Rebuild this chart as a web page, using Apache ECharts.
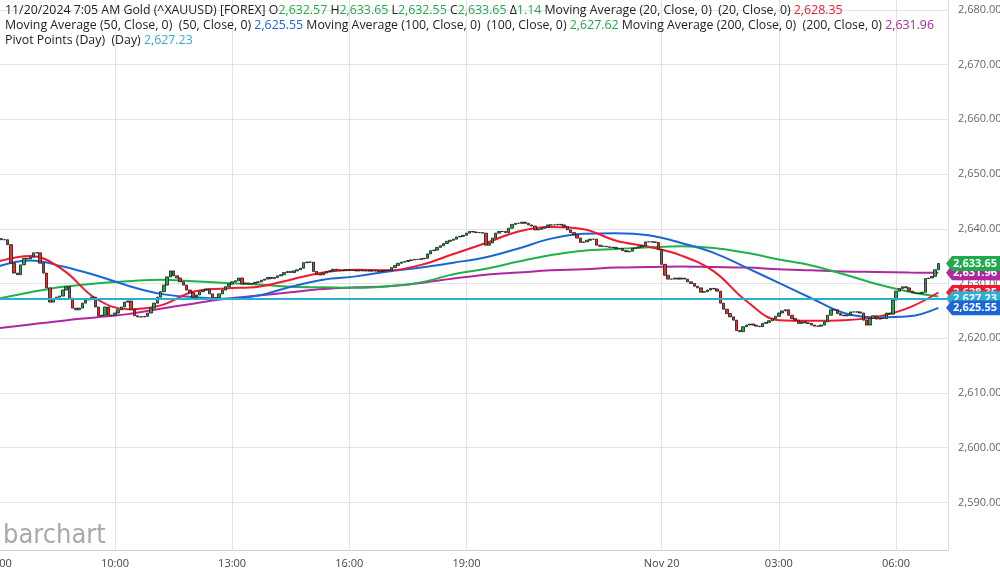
<!DOCTYPE html>
<html><head><meta charset="utf-8">
<script src="https://cdn.jsdelivr.net/npm/echarts@6/dist/echarts.min.js"></script>
<style>html,body{margin:0;padding:0;background:#fff}#c{width:1000px;height:572px}</style>
</head><body><div id="c"></div>
<script>
// ---- data ----
const closes = [
2638.2,2638.0,2638.0,2637.1,2633.7,2631.9,2631.6,2633.4,2634.6,2634.5,
2634.8,2635.6,2635.6,2633.7,2631.9,2629.2,2626.6,2627.2,2627.5,2627.7,
2628.8,2629.4,2627.3,2625.5,2625.2,2625.5,2626.4,2627.0,2627.2,2627.5,
2625.7,2624.1,2624.2,2625.7,2624.2,2624.2,2624.6,2625.2,2625.7,2626.6,
2626.8,2625.2,2624.1,2623.9,2623.9,2624.0,2624.6,2625.5,2626.4,2627.5,
2628.5,2629.7,2631.2,2632.3,2631.4,2631.0,2630.3,2629.7,2628.8,2628.3,
2627.5,2627.9,2628.5,2628.8,2629.0,2628.1,2627.4,2627.4,2628.1,2628.8,
2629.4,2629.9,2630.3,2630.5,2631.0,2629.9,2630.1,2629.9,2630.0,2630.2,
2630.3,2630.6,2630.8,2631.1,2630.9,2631.1,2631.4,2631.6,2632.0,2632.2,
2632.0,2632.3,2632.5,2632.8,2633.8,2633.9,2633.9,2632.2,2631.6,2631.6,
2631.9,2632.2,2632.3,2632.6,2632.5,2632.4,2632.4,2632.5,2632.4,2632.4,
2632.3,2632.4,2632.3,2632.3,2632.3,2632.3,2632.3,2632.2,2632.3,2632.4,
2632.4,2632.9,2633.3,2633.7,2633.9,2634.0,2634.2,2634.3,2634.4,2634.4,
2634.5,2634.6,2635.4,2636.0,2636.1,2636.6,2636.9,2637.3,2637.7,2637.9,
2638.1,2638.5,2638.6,2638.8,2639.2,2639.5,2639.4,2639.3,2639.3,2639.2,
2637.0,2637.4,2638.3,2639.2,2639.5,2639.5,2639.3,2640.1,2640.8,2641.0,
2641.0,2641.2,2641.0,2640.7,2640.5,2639.8,2639.9,2640.1,2640.3,2640.7,
2640.7,2640.7,2640.8,2640.7,2640.4,2639.8,2639.3,2638.9,2638.3,2637.5,
2637.6,2637.9,2638.1,2638.1,2637.0,2636.8,2636.8,2636.7,2636.6,2636.6,
2636.4,2636.4,2636.0,2635.8,2635.9,2636.4,2636.5,2636.7,2636.9,2637.6,
2637.6,2637.6,2637.5,2636.2,2633.5,2631.5,2630.8,2630.8,2631.0,2630.8,
2631.0,2630.8,2630.3,2630.0,2629.5,2629.2,2628.4,2628.5,2628.8,2629.1,
2629.0,2628.6,2626.4,2625.3,2624.5,2623.9,2623.3,2621.4,2621.2,2622.1,
2622.4,2622.6,2622.4,2622.2,2622.1,2622.7,2622.9,2623.2,2623.6,2624.0,
2624.6,2625.0,2625.2,2624.2,2623.6,2623.3,2622.7,2623.0,2622.8,2622.7,
2622.4,2622.2,2622.2,2622.4,2623.0,2624.2,2625.2,2625.2,2624.5,2624.2,
2624.1,2624.2,2624.8,2624.8,2624.8,2624.6,2623.3,2622.4,2623.6,2624.1,
2623.5,2623.6,2623.6,2624.6,2624.4,2627.0,2628.6,2629.1,2629.4,2629.2,
2628.6,2628.3,2628.2,2628.2,2628.4,2630.9,2631.0,2631.3,2632.51,2633.65
];
const firstOpen = 2638.4;

const maIdx = [0,10,20,30,40,50,60,70,80,90,100,110,120,130,140,150,160,170,180,190,200,210,220,230,240,250,260,270,280,289];
const ma20  = [2634.0,2635.0,2632.5,2627.3,2625.3,2626.0,2628.5,2629.1,2629.4,2630.7,2632.0,2632.5,2632.4,2633.4,2635.4,2637.4,2639.5,2640.3,2639.9,2637.8,2636.7,2635.1,2632.2,2626.8,2623.3,2623.2,2623.3,2623.9,2625.6,2628.35];
const ma50  = [2633.1,2634.2,2633.1,2631.5,2629.6,2628.1,2627.5,2627.2,2627.8,2629.4,2630.7,2631.3,2632.2,2632.9,2633.8,2634.8,2636.4,2638.2,2639.1,2639.2,2638.8,2637.4,2635.6,2632.9,2630.1,2627.3,2624.6,2623.8,2624.0,2625.55];
const ma100 = [2627.2,2628.4,2629.4,2630.0,2630.4,2630.7,2630.4,2630.1,2629.8,2629.4,2629.3,2629.2,2629.5,2630.2,2631.7,2632.7,2634.0,2635.2,2636.0,2636.3,2636.6,2636.8,2636.5,2635.6,2634.4,2633.3,2631.7,2629.9,2628.5,2627.62];
const ma200 = [2621.8,2622.5,2623.2,2623.8,2624.4,2625.4,2626.3,2627.2,2627.8,2628.4,2629.0,2629.3,2629.5,2630.1,2630.9,2631.6,2632.0,2632.4,2632.6,2632.9,2633.0,2633.1,2633.0,2632.9,2632.6,2632.4,2632.2,2632.1,2632.0,2631.96];
const pivot = 2627.23;

const tickIdx  = [0,36,72,108,144,204,240,276];
const tickText = ['07:00','10:00','13:00','16:00','19:00','Nov 20','03:00','06:00'];

const tagValues = [2631.96, 2633.65, 2628.35, 2627.23, 2625.55];
const tagColors = ['#b0279f', '#1faa4c', '#f2192e', '#2aaed2', '#1a66d6'];
const tagTexts  = ['2,631.96', '2,633.65', '2,628.35', '2,627.23', '2,625.55'];

const yMin = 2581.3, yMax = 2681.8;
const nCats = 293;

// ---- build ----
function pad(n){return (n<10?'0':'')+n;}
const categories = [];
for (let i=0;i<nCats;i++){
  const m = 7*60 + i*5;
  const day = m >= 1440 ? 20 : 19;
  categories.push(day + ' ' + pad(Math.floor(m/60)%24) + ':' + pad(m%60));
}
const candleData = closes.map((c,i)=>{
  const o = i===0 ? firstOpen : closes[i-1];
  return [o, c, Math.min(o,c), Math.max(o,c)];
});
const maSeries = (vals)=> maIdx.map((ix,k)=>[categories[ix], vals[k]]);
const tickSet = new Set(tickIdx);

const chart = echarts.init(document.getElementById('c'), null, {renderer:'canvas'});
const FONT = '"Open Sans", "Noto Sans", sans-serif';

function lineS(name, vals, color){
  return {name, type:'line', data: maSeries(vals), smooth: 0.4, symbol:'none',
    lineStyle:{color, width:2}, z:2, silent:true, animation:false};
}

chart.setOption({
  animation:false,
  grid:{left:-2.2, right:51.9, top:0, bottom:22, containLabel:false, outerBoundsMode:'none'},
  xAxis:{
    type:'category', data:categories, boundaryGap:false,
    axisLine:{show:true, lineStyle:{color:'#cfcfcf'}},
    axisTick:{show:false},
    axisLabel:{
      interval:(i)=>tickSet.has(i),
      formatter:(v,i)=>{const k=tickIdx.indexOf(i); return k>=0?tickText[k]:'';},
      color:'#444', fontSize:11, fontFamily:FONT, margin:8, hideOverlap:false
    },
    splitLine:{show:true, interval:(i)=>tickSet.has(i), lineStyle:{color:'#e3e3e3', width:1}}
  },
  yAxis:{
    type:'value', position:'right', min:yMin, max:yMax, splitNumber:10, scale:true,
    axisLine:{show:true, lineStyle:{color:'#dcdcdc'}}, axisTick:{show:false},
    axisLabel:{color:'#666', fontSize:11, fontFamily:FONT, margin:10,
      showMinLabel:false, showMaxLabel:false,
      formatter:(v)=>v.toLocaleString('en-US',{minimumFractionDigits:2, maximumFractionDigits:2})},
    splitLine:{show:true, showMinLine:false, showMaxLine:false, lineStyle:{color:'#e3e3e3', width:1}}
  },
  series:[
    lineS('MA200', ma200, '#b0279f'),
    lineS('MA100', ma100, '#1db34a'),
    lineS('MA50', ma50, '#1a66d6'),
    lineS('MA20', ma20, '#f2192e'),
    {
      name:'Gold', type:'candlestick', data:candleData, barWidth:3, z:3,
      itemStyle:{color:'#1faa4c', color0:'#e8312b', borderColor:'#1a1a1a', borderColor0:'#1a1a1a', borderWidth:0.8},
      markLine:{silent:true, symbol:['none','none'], label:{show:false},
        lineStyle:{color:'#2aaed2', width:2, type:'solid'},
        data:[{yAxis:pivot}], animation:false}
    }
  ]
});

// ---- header text + tags ----
const F12 = '12.35px "Open Sans", "Noto Sans", sans-serif';
const rich = {
  k:{fill:'#222', font:F12},
  g:{fill:'#1faa4c', font:F12},
  r:{fill:'#f2192e', font:F12},
  b:{fill:'#1a66d6', font:F12},
  m:{fill:'#b0279f', font:F12},
  c:{fill:'#2aaed2', font:F12}
};
const line1 = '{k|11/20/2024 7:05 AM Gold (^XAUUSD) [FOREX] O}{g|2,632.57}{k| H}{g|2,633.65}{k| L}{g|2,632.55}{k| C}{g|2,633.65}{k| Δ}{g|1.14}{k| Moving Average (20, Close, 0)  (20, Close, 0) }{r|2,628.35}';
const line2 = '{k|Moving Average (50, Close, 0)  (50, Close, 0) }{b|2,625.55}{k| Moving Average (100, Close, 0)  (100, Close, 0) }{g|2,627.62}{k| Moving Average (200, Close, 0)  (200, Close, 0) }{m|2,631.96}';
const line3 = '{k|Pivot Points (Day)  (Day) }{c|2,627.23}';

const graphics = [
  {type:'text', x:5, y:10, z:100, style:{text:line1, rich, font:F12, verticalAlign:'middle'}},
  {type:'text', x:5, y:25, z:100, style:{text:line2, rich, font:F12, verticalAlign:'middle'}},
  {type:'text', x:5, y:40, z:100, style:{text:line3, rich, font:F12, verticalAlign:'middle'}},
  {type:'text', x:3, y:536, z:100, style:{text:'barchart', fill:'#a9a9a9',
    font:'27px "Liberation Sans Narrow", "DejaVu Sans Condensed", sans-serif', verticalAlign:'middle'}}
];
tagValues.forEach((v,ix)=>{
  const y = chart.convertToPixel({yAxisIndex:0}, v);
  graphics.push({type:'polygon', z:110+ix*2,
    shape:{points:[[946,y],[952,y-7.5],[1000,y-7.5],[1000,y+7.5],[952,y+7.5]]},
    style:{fill:tagColors[ix]}});
  graphics.push({type:'text', z:111+ix*2, x:975, y:y+0.5,
    style:{text:tagTexts[ix], fill:'#fff', font:'bold 11px "Open Sans", sans-serif', align:'center', verticalAlign:'middle'}});
});
chart.setOption({graphic:graphics});
</script></body></html>
